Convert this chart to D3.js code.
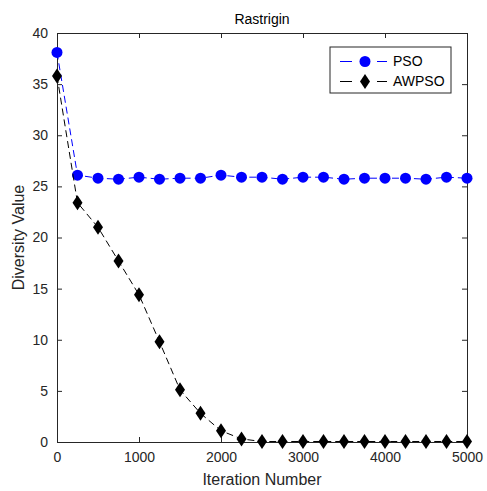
<!DOCTYPE html>
<html>
<head>
<meta charset="utf-8">
<script src="https://cdn.jsdelivr.net/npm/d3@7"></script>
<style>
  body { margin: 0; background: #fff; }
  text { font-family: "Liberation Sans", Arial, sans-serif; fill: #262626; }
</style>
</head>
<body>
<div id="viz"></div>
<script>
const iterations = [0, 250, 500, 750, 1000, 1250, 1500, 1750, 2000, 2250, 2500,
  2750, 3000, 3250, 3500, 3750, 4000, 4250, 4500, 4750, 5000];
const psoValues = [38.1, 26.1, 25.8, 25.7, 25.9, 25.7, 25.8, 25.8, 26.1, 25.9, 25.9,
  25.7, 25.9, 25.9, 25.7, 25.8, 25.8, 25.8, 25.7, 25.9, 25.8];
const awpsoValues = [35.8, 23.4, 21.0, 17.7, 14.4, 9.8, 5.1, 2.8, 1.1, 0.3, 0.05,
  0.05, 0.05, 0.05, 0.05, 0.05, 0.05, 0.05, 0.05, 0.05, 0.05];
const xTicks = [0, 1000, 2000, 3000, 4000, 5000];
const yTicks = [0, 5, 10, 15, 20, 25, 30, 35, 40];
const seriesNames = ['PSO', 'AWPSO'];

const width = 487, height = 491;
const margin = { top: 33, right: 20, bottom: 49, left: 57 };

const svg = d3.select('#viz').append('svg')
  .attr('width', width)
  .attr('height', height);

const xScale = d3.scaleLinear().domain([0, 5000]).range([margin.left, width - margin.right]);
const yScale = d3.scaleLinear().domain([0, 40]).range([height - margin.bottom, margin.top]);

const axisColor = '#262626';

// axes with inward ticks, box on top/right
const xAxis = svg.append('g')
  .attr('transform', `translate(0, ${yScale(0)})`)
  .call(d3.axisBottom(xScale).tickValues(xTicks).tickFormat(d3.format('d'))
    .tickSize(-5).tickPadding(10).tickSizeOuter(0));
const yAxis = svg.append('g')
  .attr('transform', `translate(${xScale(0)}, 0)`)
  .call(d3.axisLeft(yScale).tickValues(yTicks).tickSize(-5).tickPadding(9).tickSizeOuter(0));
const xTop = svg.append('g')
  .attr('transform', `translate(0, ${yScale(40)})`)
  .call(d3.axisTop(xScale).tickValues(xTicks).tickSize(-5).tickFormat('').tickSizeOuter(0));
const yRight = svg.append('g')
  .attr('transform', `translate(${xScale(5000)}, 0)`)
  .call(d3.axisRight(yScale).tickValues(yTicks).tickSize(-5).tickFormat('').tickSizeOuter(0));

[xAxis, yAxis, xTop, yRight].forEach(g => {
  g.selectAll('path, line').attr('stroke', axisColor);
  g.selectAll('text').style('font-size', '14px').attr('fill', axisColor);
});

const line = ys => d3.line()
  .x((d, i) => xScale(iterations[i]))
  .y(d => yScale(d))(ys);

// PSO
svg.append('path')
  .attr('d', line(psoValues))
  .attr('fill', 'none')
  .attr('stroke', 'blue')
  .attr('stroke-width', 1)
  .attr('stroke-dasharray', '7,4');

svg.selectAll('.pso')
  .data(psoValues)
  .enter().append('circle')
  .attr('class', 'pso')
  .attr('cx', (d, i) => xScale(iterations[i]))
  .attr('cy', d => yScale(d))
  .attr('r', 5.5)
  .attr('fill', 'blue');

// AWPSO
svg.append('path')
  .attr('d', line(awpsoValues))
  .attr('fill', 'none')
  .attr('stroke', 'black')
  .attr('stroke-width', 1)
  .attr('stroke-dasharray', '7,4');

const diamond = 'M0,-7.5L5,0L0,7.5L-5,0Z';
svg.selectAll('.awpso')
  .data(awpsoValues)
  .enter().append('path')
  .attr('class', 'awpso')
  .attr('d', diamond)
  .attr('transform', (d, i) => `translate(${xScale(iterations[i])}, ${yScale(d)})`)
  .attr('fill', 'black');

// Title and labels
svg.append('text')
  .attr('x', (xScale(0) + xScale(5000)) / 2)
  .attr('y', 24)
  .attr('text-anchor', 'middle')
  .style('font-size', '14px')
  .style('fill', '#000')
  .text('Rastrigin');

svg.append('text')
  .attr('x', (xScale(0) + xScale(5000)) / 2)
  .attr('y', 485)
  .attr('text-anchor', 'middle')
  .style('font-size', '16px')
  .text('Iteration Number');

svg.append('text')
  .attr('transform', `translate(24, ${(yScale(0) + yScale(40)) / 2}) rotate(-90)`)
  .attr('text-anchor', 'middle')
  .style('font-size', '16px')
  .text('Diversity Value');

// Legend
const legend = svg.append('g').attr('transform', 'translate(330, 47)');
legend.append('rect')
  .attr('width', 121)
  .attr('height', 46)
  .attr('fill', '#fff')
  .attr('stroke', axisColor);

const legendItem = legend.selectAll('.legend-item')
  .data(seriesNames)
  .enter().append('g')
  .attr('transform', (d, i) => `translate(0, ${14.5 + i * 20})`);

legendItem.append('line')
  .attr('x1', 10).attr('x2', 57)
  .attr('stroke', (d, i) => i === 0 ? 'blue' : 'black')
  .attr('stroke-dasharray', '12,25');

legendItem.filter((d, i) => i === 0).append('circle')
  .attr('cx', 35).attr('r', 5.5).attr('fill', 'blue');
legendItem.filter((d, i) => i === 1).append('path')
  .attr('d', diamond).attr('transform', 'translate(35, 0)').attr('fill', 'black');

legendItem.append('text')
  .attr('x', 63)
  .attr('dy', '0.35em')
  .style('font-size', '14px')
  .style('fill', '#000')
  .text(d => d);
</script>
</body>
</html>
